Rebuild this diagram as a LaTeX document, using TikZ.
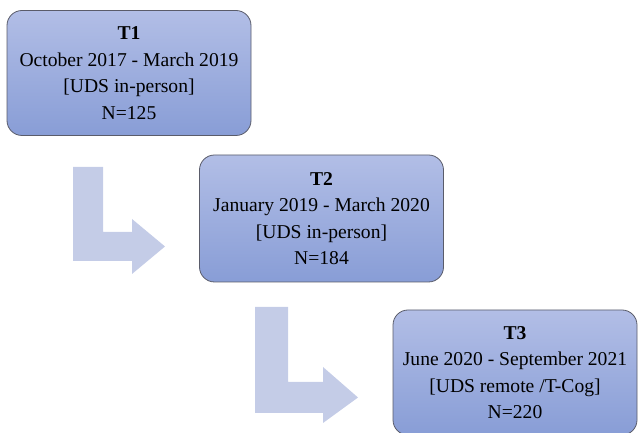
\documentclass[tikz,border=0pt]{standalone}
\usepackage{fontspec}
\setmainfont{Liberation Serif}
\usetikzlibrary{positioning, calc}

\definecolor{boxtop}{HTML}{B2BEE6}
\definecolor{boxbot}{HTML}{889DD6}
\definecolor{boxline}{HTML}{5A5C6A}
\definecolor{arrowfill}{HTML}{C4CCE7}

\tikzset{
  phase/.style={draw=boxline, line width=0.8pt, rounded corners=15pt,
    top color=boxtop, bottom color=boxbot, align=center,
    minimum width=244pt, minimum height=125pt, inner sep=0pt,
    font=\fontsize{19.6}{26.5}\selectfont},
  bent/.style={fill=arrowfill, draw=none}
}

\begin{document}
\begin{tikzpicture}[x=1pt, y=1pt]
\useasboundingbox (0,0) rectangle (638,433);

% Phases
\node[phase] (t1) at (129,360) {\textbf{T1}\\October 2017 - March 2019\\{}[UDS in-person]\\N=125};
\node[phase, minimum height=127pt] (t2) at (321.5,214.5) {\textbf{T2}\\January 2019 - March 2020\\{}[UDS in-person]\\N=184};
\node[phase] (t3) at (515,60.5) {\textbf{T3}\\June 2020 - September 2021\\{}[UDS remote /T-Cog]\\N=220};

% Bent arrows
\fill[bent] (73,266) -- (103,266) -- (103,201) -- (132,201) -- (132,214)
  -- (165,186.5) -- (132,159) -- (132,172) -- (73,172) -- cycle;
\fill[bent] (255,126) -- (288,126) -- (288,51) -- (323,51) -- (323,66)
  -- (358,35.5) -- (323,10) -- (323,20) -- (255,20) -- cycle;
\end{tikzpicture}
\end{document}
